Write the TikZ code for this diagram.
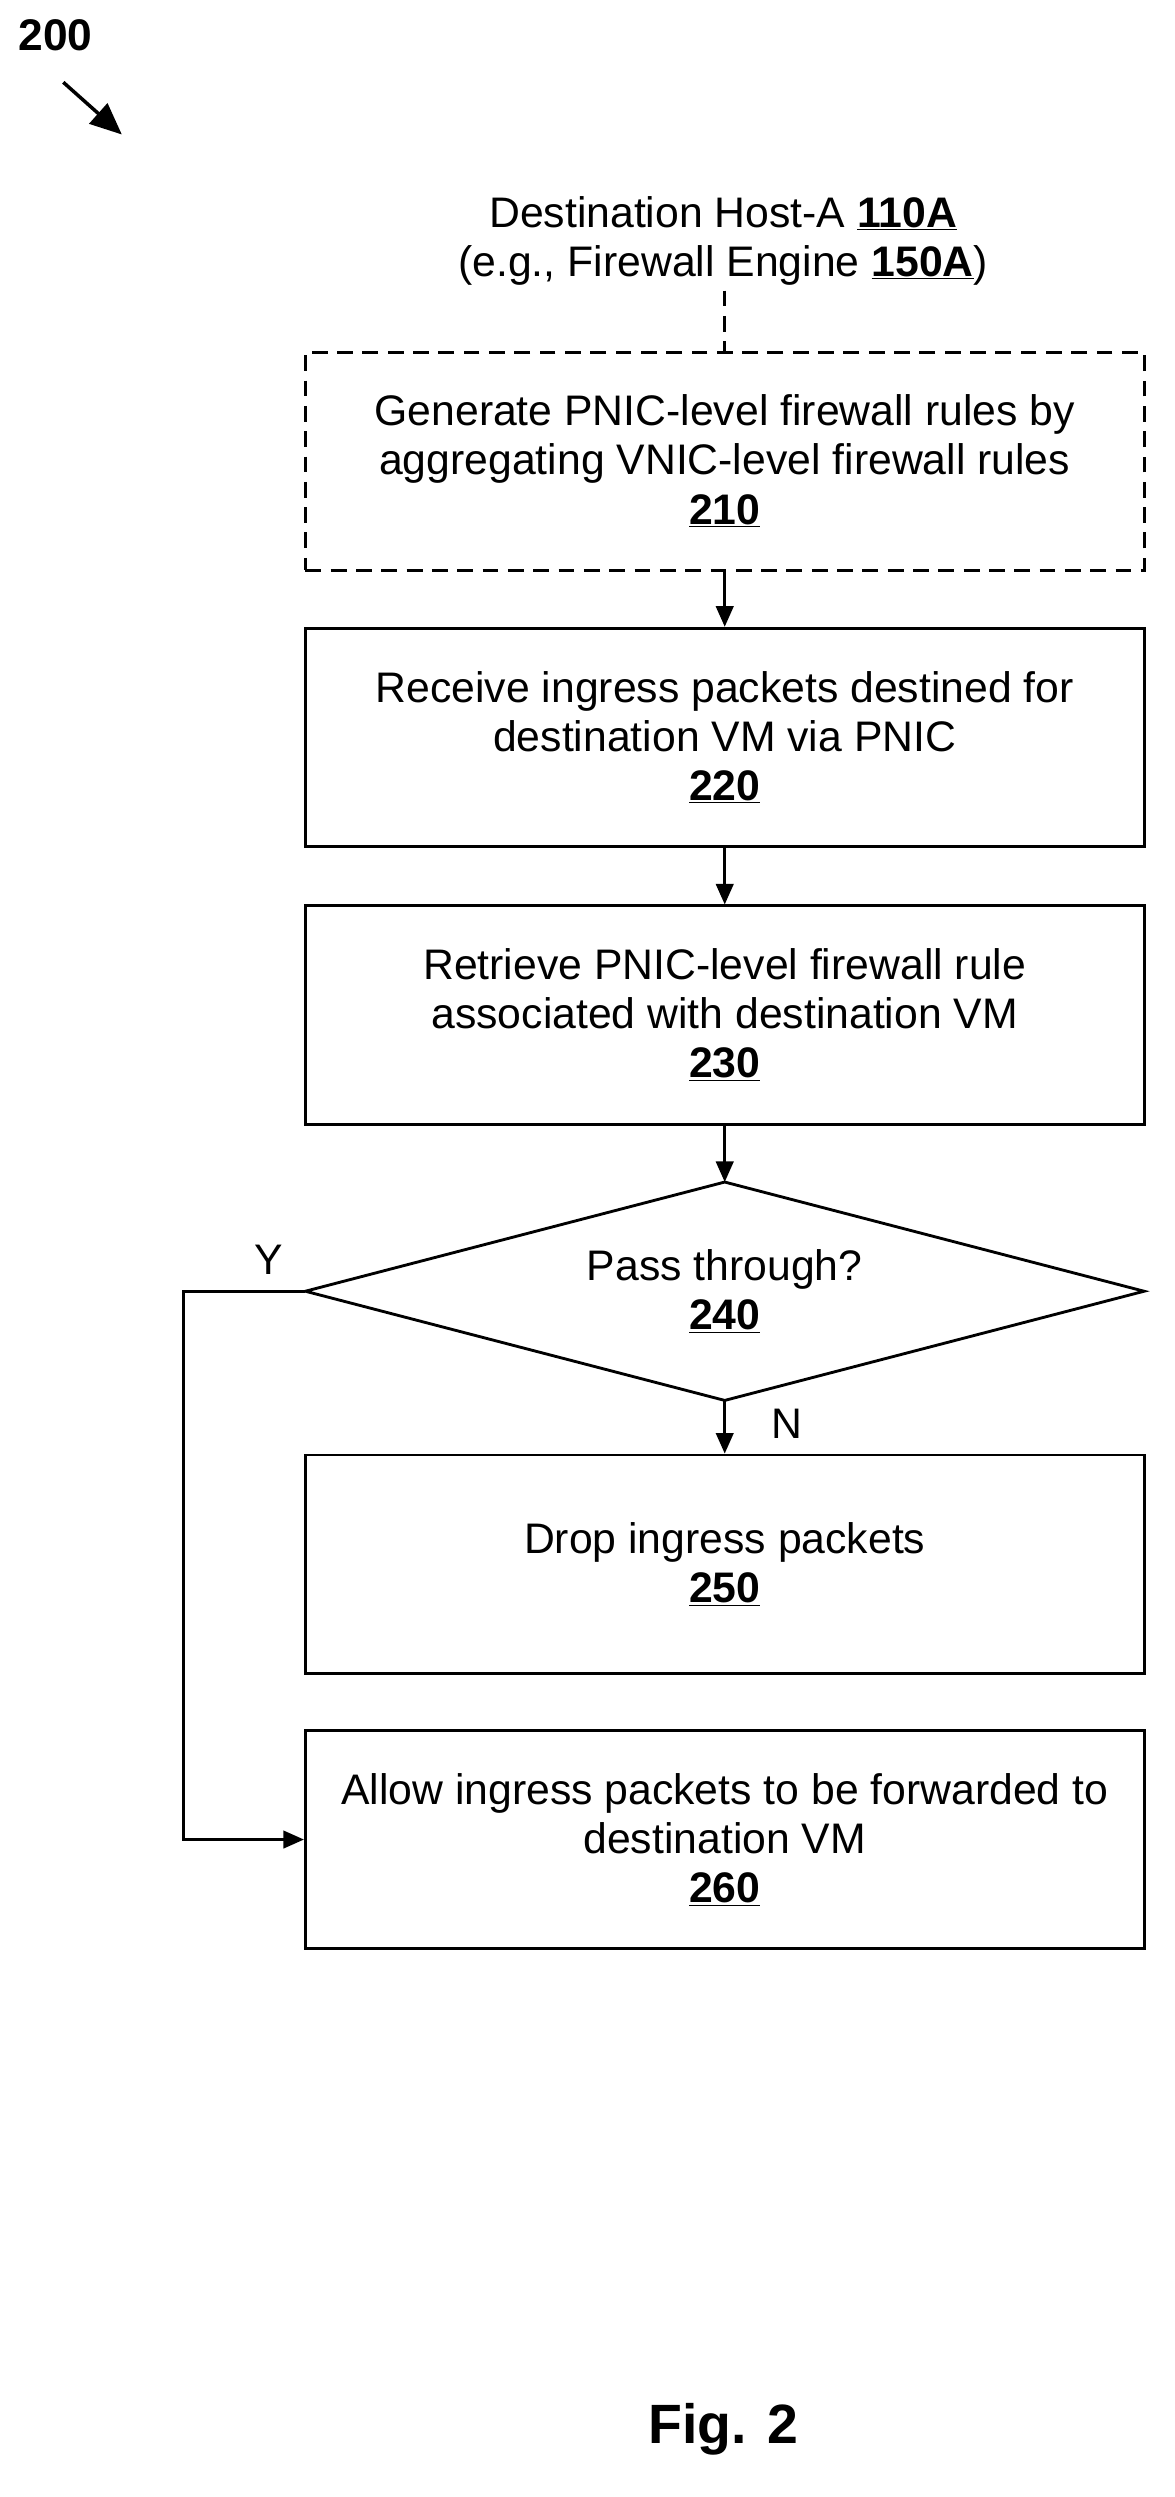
\documentclass[tikz,border=0pt]{standalone}
\usepackage{fontspec}
\setmainfont{Liberation Sans}
\usetikzlibrary{arrows.meta}
\begin{document}
\begin{tikzpicture}[x=1pt,y=-1pt,
  box/.style={draw,line width=1.8pt,minimum width=530pt,minimum height=138pt,align=center,inner sep=0pt,font=\fontsize{27}{31}\selectfont},
  arr/.style={line width=1.8pt,-{Triangle[length=13pt,width=11pt]}},
  lbl/.style={font=\fontsize{27}{31}\selectfont}]
\useasboundingbox (0,0) rectangle (742,1578);
\newcommand{\ub}[1]{\underline{\textbf{#1}}}
\node[font=\bfseries\fontsize{28}{30}\selectfont] (n200) at (35,22) {200};
\coordinate (a1) at (40,52); \coordinate (a2) at (77,85);
\draw[arr,line width=2.2pt,-{Triangle[length=20pt,width=17pt]}] (a1) -- (a2);
\node[lbl,align=center] (title) at (457,152) {Destination Host-A \ub{110A}\\(e.g., Firewall Engine \ub{150A})};
\node[box,dashed,dash pattern=on 10pt off 6pt] (b210) at (458,291.5) {Generate PNIC-level firewall rules by\\aggregating VNIC-level firewall rules\\\ub{210}};
\node[box] (b220) at (458,466) {Receive ingress packets destined for\\destination VM via PNIC\\\ub{220}};
\node[box] (b230) at (458,641.5) {Retrieve PNIC-level firewall rule\\associated with destination VM\\\ub{230}};
\coordinate (dt) at (458,747); \coordinate (dl) at (193,816);
\coordinate (dr) at (723,816); \coordinate (db) at (458,885);
\draw[line width=1.8pt] (dt) -- (dr) -- (db) -- (dl) -- cycle;
\node[lbl,align=center] (d240) at (458,816) {Pass through?\\\ub{240}};
\node[box] (b250) at (458,988.5) {Drop ingress packets\\\ub{250}};
\node[box] (b260) at (458,1162.5) {Allow ingress packets to be forwarded to\\destination VM\\\ub{260}};
\node[lbl] (Y) at (170,796) {Y};
\node[lbl] (N) at (497,900) {N};
\node[font=\bfseries\fontsize{35}{38}\selectfont] (fig) at (457,1535) {Fig. 2};
\draw[line width=1.8pt,dash pattern=on 10pt off 6pt] (title.south -| b210.north) -- (b210.north);
\draw[arr] (b210) -- (b220);
\draw[arr] (b220) -- (b230);
\draw[arr] (b230.south) -- (dt);
\draw[arr] (db) -- (b250.north);
\coordinate (c1) at (116,816);
\draw[arr] (dl) -- (c1) |- (b260.west);
\end{tikzpicture}
\end{document}
